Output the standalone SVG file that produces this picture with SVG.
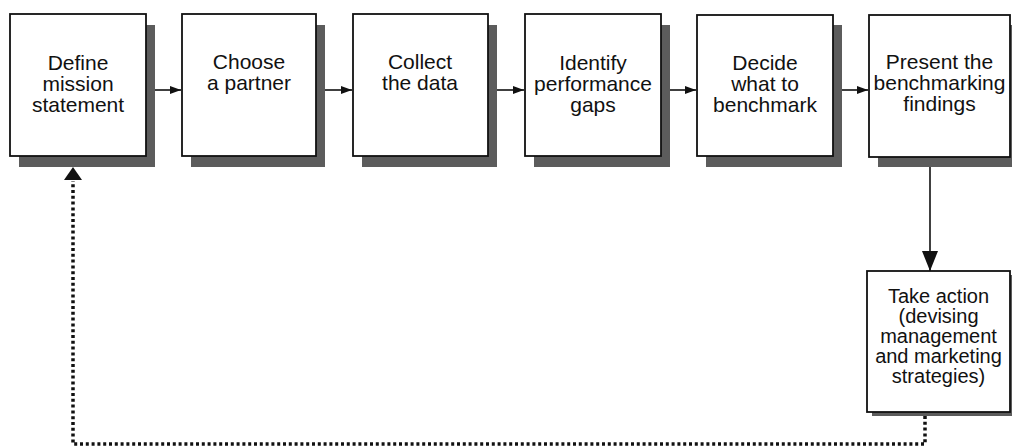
<svg xmlns="http://www.w3.org/2000/svg" width="1012" height="448" viewBox="0 0 1012 448">
<style>
.box{fill:#fff;stroke:#111;stroke-width:1.8}
.sh{fill:#5c5c5c}
.t{font-family:"Liberation Sans",Arial,sans-serif;font-size:21px;fill:#111;text-anchor:middle}
.t2{font-family:"Liberation Sans",Arial,sans-serif;font-size:20px;fill:#111;text-anchor:middle}
.ln{stroke:#111;stroke-width:1.6;fill:none}
.dot{stroke:#111;stroke-width:3.5;fill:none;stroke-dasharray:3 2.8}
</style>
<defs>
<marker id="ah" viewBox="0 0 11 8" refX="11" refY="4" markerWidth="11" markerHeight="8" markerUnits="userSpaceOnUse" orient="auto">
<path d="M0,0 L11,4 L0,8 Z" fill="#111"/>
</marker>
<marker id="ahb" viewBox="0 0 20 16" refX="20" refY="8" markerWidth="20" markerHeight="16" markerUnits="userSpaceOnUse" orient="auto">
<path d="M0,0 L20,8 L0,16 Z" fill="#111"/>
</marker>
<marker id="ahu" viewBox="0 0 13 18" refX="13" refY="9" markerWidth="13" markerHeight="18" markerUnits="userSpaceOnUse" orient="auto">
<path d="M0,0 L13,9 L0,18 Z" fill="#111"/>
</marker>
</defs>
<g id="connectors">
<line class="ln" x1="155" y1="90" x2="181" y2="90" marker-end="url(#ah)"/>
<line class="ln" x1="325" y1="90" x2="352" y2="90" marker-end="url(#ah)"/>
<line class="ln" x1="497" y1="90" x2="524" y2="90" marker-end="url(#ah)"/>
<line class="ln" x1="670" y1="90" x2="696" y2="90" marker-end="url(#ah)"/>
<line class="ln" x1="842" y1="90" x2="868" y2="90" marker-end="url(#ah)"/>
<line class="ln" x1="930" y1="157" x2="930" y2="271" marker-end="url(#ahb)"/>
<path class="dot" d="M925,416 V444 H73 V181"/>
<line x1="73" y1="182" x2="73" y2="167" stroke="none" marker-end="url(#ahu)"/>
</g>
<g id="n1">
<rect class="sh" x="19" y="25" width="136" height="142"/>
<rect class="box" x="10" y="14" width="136" height="142"/>
<text class="t" x="78" y="70">Define</text>
<text class="t" x="78" y="91">mission</text>
<text class="t" x="78" y="112">statement</text>
</g>
<g id="n2">
<rect class="sh" x="191" y="25" width="134" height="142"/>
<rect class="box" x="182" y="14" width="134" height="142"/>
<text class="t" x="249" y="69">Choose</text>
<text class="t" x="249" y="90">a partner</text>
</g>
<g id="n3">
<rect class="sh" x="362" y="25" width="135" height="142"/>
<rect class="box" x="353" y="14" width="135" height="142"/>
<text class="t" x="420" y="69">Collect</text>
<text class="t" x="420" y="90">the data</text>
</g>
<g id="n4">
<rect class="sh" x="534" y="25" width="136" height="142"/>
<rect class="box" x="525" y="14" width="136" height="142"/>
<text class="t" x="593" y="70">Identify</text>
<text class="t" x="593" y="91">performance</text>
<text class="t" x="593" y="112">gaps</text>
</g>
<g id="n5">
<rect class="sh" x="706" y="25" width="136" height="142"/>
<rect class="box" x="697" y="15" width="136" height="141"/>
<text class="t" x="765" y="70">Decide</text>
<text class="t" x="765" y="91">what to</text>
<text class="t" x="765" y="112">benchmark</text>
</g>
<g id="n6">
<rect class="sh" x="878" y="25" width="141" height="142"/>
<rect class="box" x="869" y="15" width="141" height="142"/>
<text class="t" x="939.5" y="69">Present the</text>
<text class="t" x="939.5" y="90">benchmarking</text>
<text class="t" x="939.5" y="111">findings</text>
</g>
<g id="n7">
<rect class="sh" x="872" y="275" width="143" height="141"/>
<rect class="box" x="867" y="271" width="143" height="141"/>
<text class="t2" x="938.5" y="303">Take action</text>
<text class="t2" x="938.5" y="323">(devising</text>
<text class="t2" x="938.5" y="343">management</text>
<text class="t2" x="938.5" y="363">and marketing</text>
<text class="t2" x="938.5" y="383">strategies)</text>
</g>
</svg>
